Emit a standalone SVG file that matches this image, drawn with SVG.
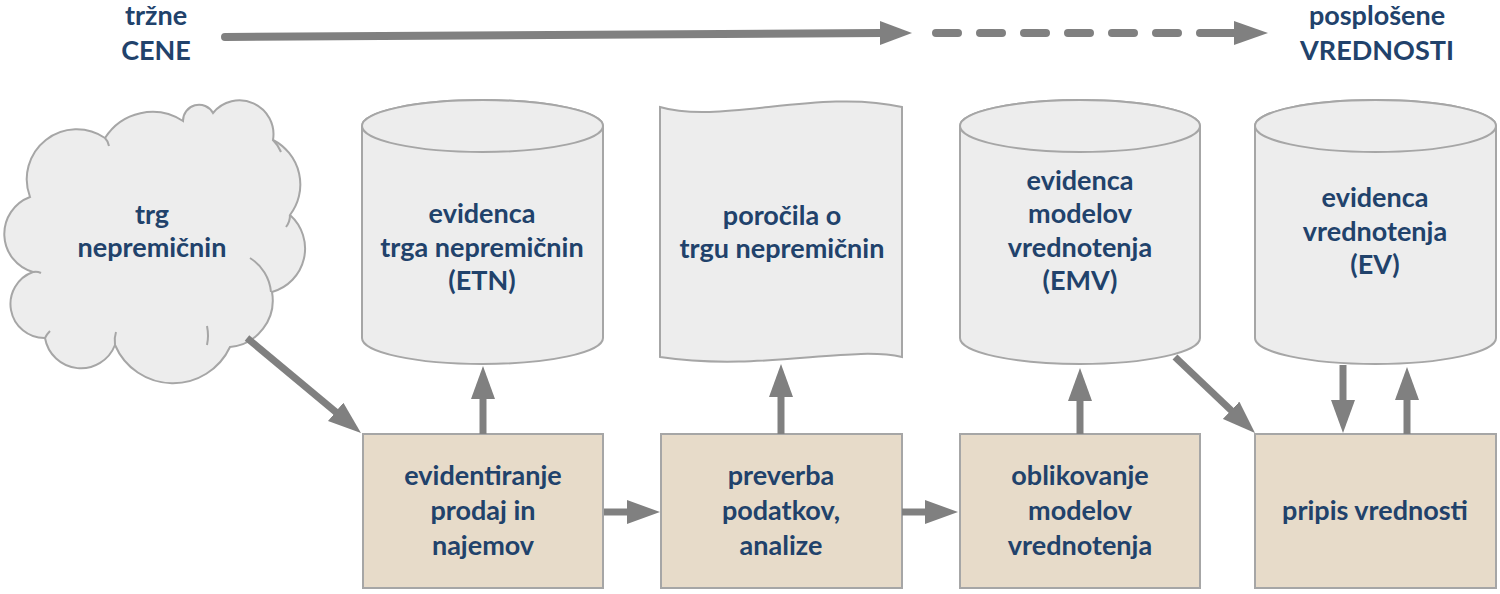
<svg xmlns="http://www.w3.org/2000/svg" width="1500" height="594" viewBox="0 0 1500 594">
<defs>
<style>
.t{font-family:Lato,"Liberation Sans",sans-serif;font-weight:700;font-size:27px;fill:#21426B;text-anchor:middle}
.shape{fill:#EDEDED;stroke:#A6A6A6;stroke-width:2}
.box{fill:#E7DBC9;stroke:#A6A6A6;stroke-width:2}
.conn{stroke:#808080;stroke-width:7;fill:none}
.hook{fill:none;stroke:#A6A6A6;stroke-width:2}
</style>
<marker id="ah" markerUnits="userSpaceOnUse" markerWidth="34" markerHeight="24" viewBox="0 0 34 24" refX="1" refY="12" orient="auto">
<path d="M0,0 L33,12 L0,24 Z" fill="#808080"/>
</marker>
</defs>
<rect width="1500" height="594" fill="#FFFFFF"/>

<g id="top-labels">
<text class="t" x="156" y="25">tržne</text>
<text class="t" x="156" y="60">CENE</text>
<text class="t" x="1377" y="25">posplošene</text>
<text class="t" x="1377" y="60">VREDNOSTI</text>
</g>

<g id="cloud">
<path class="shape" d="M33,272 A39.5,39.5 0 0 1 30,197 A50,50 0 0 1 105,138 A56,56 0 0 1 183,121 A16,16 0 0 1 213,113 A34,34 0 0 1 273,140 A50,50 0 0 1 290,215 A45,45 0 0 1 272,292 A47,47 0 0 1 230,347 A63,63 0 0 1 115,345 A36.5,36.5 0 0 1 45,338 A34,34 0 0 1 33,272 Z"/>
<path class="hook" d="M105,138 Q108,141 109,146"/>
<path class="hook" d="M273,140 Q278,145 281,152"/>
<path class="hook" d="M290,215 Q290,222 286,227"/>
<path class="hook" d="M250,258 A45,45 0 0 1 271,292"/>
<path class="hook" d="M207,326 Q209,336 207,345"/>
<path class="hook" d="M115,345 Q114,338 116,332"/>
<path class="hook" d="M45,338 Q47,334 50,331"/>
<path class="hook" d="M33,272 Q37,271 41,273"/>
<text class="t" x="152" y="224">trg</text>
<text class="t" x="152" y="257">nepremičnin</text>
</g>

<g id="etn">
<path class="shape" d="M362,126 V338 A120.5,26 0 0 0 603,338 V126 A120.5,26 0 0 0 362,126 Z"/>
<ellipse class="shape" cx="482.5" cy="126" rx="120.5" ry="26"/>
<text class="t" x="482" y="223">evidenca</text>
<text class="t" x="482" y="257">trga nepremičnin</text>
<text class="t" x="482" y="290">(ETN)</text>
</g>

<g id="porocila">
<path class="shape" d="M660,107 C720,125 820,88 902,107 L902,357 C850,345 760,372 660,357 Z"/>
<text class="t" x="782" y="225">poročila o</text>
<text class="t" x="782" y="258">trgu nepremičnin</text>
</g>

<g id="emv">
<path class="shape" d="M960,126 V338 A120,26 0 0 0 1200,338 V126 A120,26 0 0 0 960,126 Z"/>
<ellipse class="shape" cx="1080" cy="126" rx="120" ry="26"/>
<text class="t" x="1080" y="190">evidenca</text>
<text class="t" x="1080" y="223">modelov</text>
<text class="t" x="1080" y="257">vrednotenja</text>
<text class="t" x="1080" y="290">(EMV)</text>
</g>

<g id="ev">
<path class="shape" d="M1255,126 V338 A120.5,26 0 0 0 1496,338 V126 A120.5,26 0 0 0 1255,126 Z"/>
<ellipse class="shape" cx="1375.5" cy="126" rx="120.5" ry="26"/>
<text class="t" x="1375" y="207">evidenca</text>
<text class="t" x="1375" y="241">vrednotenja</text>
<text class="t" x="1375" y="274">(EV)</text>
</g>

<g id="evidentiranje">
<rect class="box" x="363" y="434" width="240" height="154"/>
<text class="t" x="483" y="485">evidentiranje</text>
<text class="t" x="483" y="520">prodaj in</text>
<text class="t" x="483" y="555">najemov</text>
</g>

<g id="preverba">
<rect class="box" x="661" y="434" width="241" height="154"/>
<text class="t" x="781" y="485">preverba</text>
<text class="t" x="781" y="520">podatkov,</text>
<text class="t" x="781" y="555">analize</text>
</g>

<g id="oblikovanje">
<rect class="box" x="960" y="434" width="240" height="154"/>
<text class="t" x="1080" y="485">oblikovanje</text>
<text class="t" x="1080" y="520">modelov</text>
<text class="t" x="1080" y="555">vrednotenja</text>
</g>

<g id="pripis">
<rect class="box" x="1255" y="434" width="241" height="154"/>
<text class="t" x="1375" y="520">pripis vrednosti</text>
</g>

<g id="connectors">
<path d="M225,37 L882,33" stroke="#808080" stroke-width="8" stroke-linecap="round" fill="none"/>
<path d="M880,21 L912,33 L880,45 Z" fill="#808080"/>
<path d="M936,33 H958 M980,33 H1002 M1024,33 H1046 M1068,33 H1090 M1112,33 H1134 M1156,33 H1178 M1200,33 H1236" stroke="#808080" stroke-width="8" stroke-linecap="round" fill="none"/>
<path d="M1234,21 L1268,33 L1234,45 Z" fill="#808080"/>

<line class="conn" x1="247" y1="338" x2="336.4" y2="412.5" marker-end="url(#ah)"/>
<line class="conn" x1="483" y1="434" x2="483" y2="398" marker-end="url(#ah)"/>
<line class="conn" x1="781" y1="434" x2="781" y2="396" marker-end="url(#ah)"/>
<line class="conn" x1="1080" y1="434" x2="1080" y2="400" marker-end="url(#ah)"/>
<line class="conn" x1="604" y1="512" x2="628" y2="512" marker-end="url(#ah)"/>
<line class="conn" x1="902" y1="512" x2="926" y2="512" marker-end="url(#ah)"/>
<line class="conn" x1="1175" y1="357" x2="1231.8" y2="411" marker-end="url(#ah)"/>
<line class="conn" x1="1343" y1="365" x2="1343" y2="401" marker-end="url(#ah)"/>
<line class="conn" x1="1407" y1="434" x2="1407" y2="399" marker-end="url(#ah)"/>
</g>
</svg>
